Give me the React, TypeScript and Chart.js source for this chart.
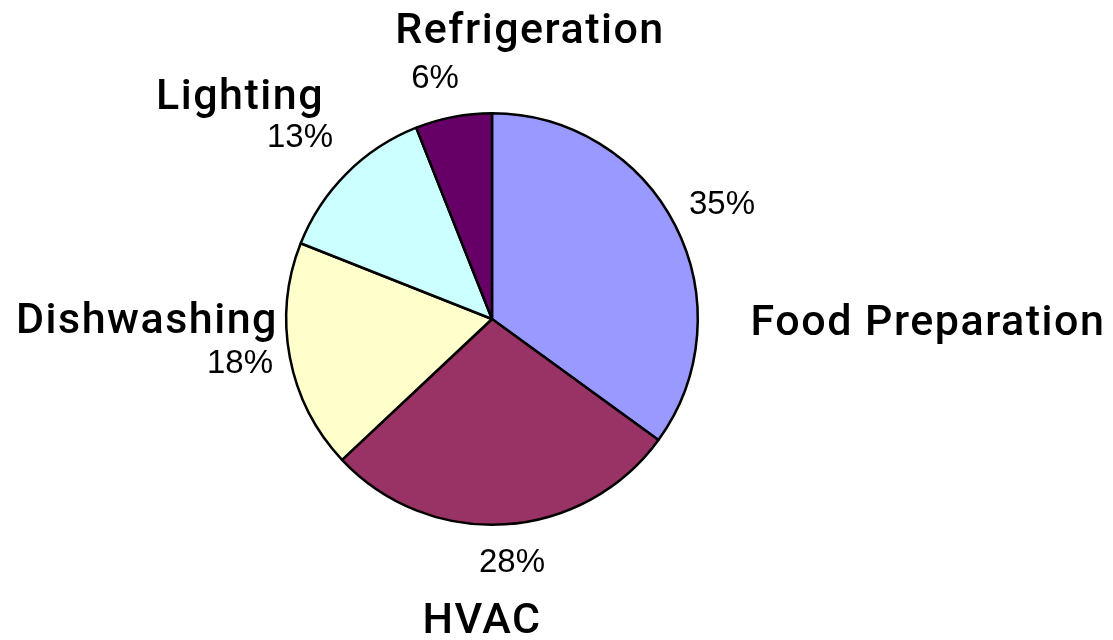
import React, { useEffect, useRef } from "react";
import { Chart, registerables } from "chart.js";

Chart.register(...registerables);

const categories = ["Food Preparation", "HVAC", "Dishwashing", "Lighting", "Refrigeration"];
const shares = [35, 28, 18, 13, 6];
const sliceColors = ["#9999FF", "#993366", "#FFFFCC", "#CCFFFF", "#660066"];

// label placement relative to pie centre (px): [nameDx, nameBaselineDy, pctDx, pctBaselineDy]
const labelLayout = [
  [436, 16, 230, -105],
  [-10, 314, 20, 253],
  [-345, 14, -252, 54],
  [-252, -210, -192, -172],
  [38, -276, -57, -231],
];

const NAME_FONT = "500 43px Roboto, 'Liberation Sans', sans-serif";
const PCT_FONT = "33px 'Liberation Sans', Arial, sans-serif";

const labelPlugin = {
  id: "pieLabels",
  afterDraw(chart: any) {
    const meta = chart.getDatasetMeta(0);
    const ctx = chart.ctx;
    ctx.save();
    ctx.fillStyle = "#000";
    ctx.textAlign = "center";
    ctx.textBaseline = "alphabetic";
    meta.data.forEach((arc: any, i: number) => {
      const { x, y } = arc.getProps(["x", "y"], true);
      const [nx, ny, px, py] = labelLayout[i];
      ctx.font = NAME_FONT;
      (ctx as any).letterSpacing = "1.5px";
      ctx.fillText(categories[i], x + nx, y + ny);
      (ctx as any).letterSpacing = "0px";
      ctx.font = PCT_FONT;
      ctx.fillText(shares[i] + "%", x + px, y + py);
    });
    ctx.restore();
  },
};

export default function App() {
  const ref = useRef<HTMLCanvasElement>(null);
  useEffect(() => {
    if (!ref.current) return;
    const chart = new Chart(ref.current, {
      type: "pie",
      data: {
        labels: categories,
        datasets: [
          {
            data: shares,
            backgroundColor: sliceColors,
            borderColor: "#000",
            borderWidth: 2.5,
          },
        ],
      },
      options: {
        responsive: false,
        animation: false,
        layout: { padding: { left: 285, right: 414, top: 112, bottom: 114 } },
        plugins: {
          legend: { display: false },
          tooltip: { enabled: false },
        },
      },
      plugins: [labelPlugin],
    });
    return () => chart.destroy();
  }, []);
  return (
    <div style={{ position: "absolute", left: 0, top: 0, width: 1113, height: 640, background: "#fff" }}>
      <canvas ref={ref} width={1113} height={640} />
    </div>
  );
}
